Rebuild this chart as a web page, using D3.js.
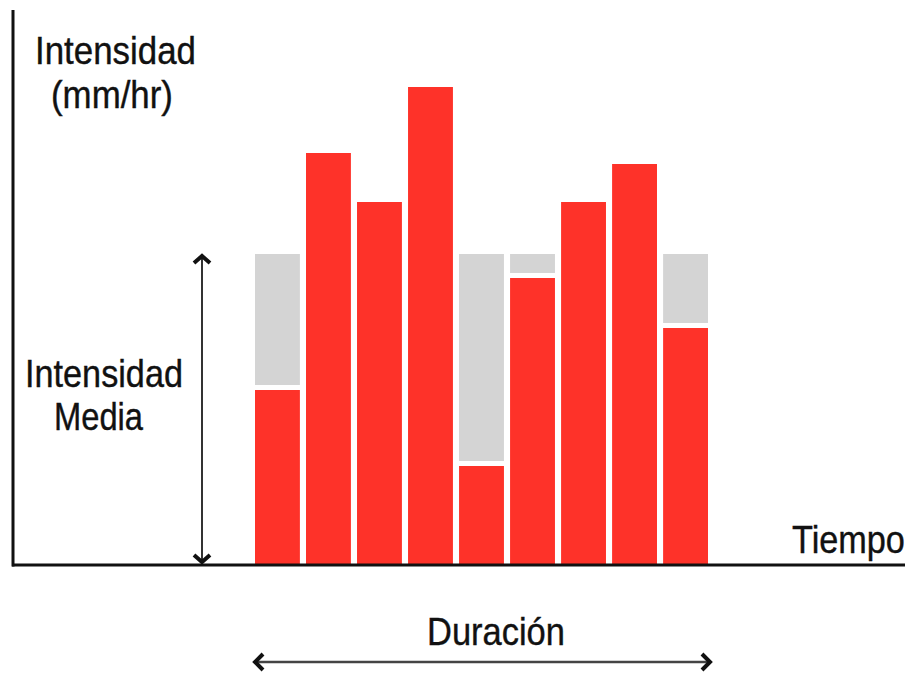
<!DOCTYPE html>
<html><head><meta charset="utf-8">
<script src="https://cdn.jsdelivr.net/npm/d3@7"></script>
<style>html,body{margin:0;padding:0;background:#fff;}svg{display:block;}</style>
</head><body>
<svg id="c" width="912" height="673"></svg>
<script>
// Data (intensity per time interval, arbitrary mm/hr units)
const intervals = ["1","2","3","4","5","6","7","8","9"];
const intensity = [17.5, 41.2, 36.3, 47.8, 9.9, 28.7, 36.3, 40.1, 23.7];
const meanIntensity = 31.1;
const labels = {
  yTitle: ["Intensidad", "(mm/hr)"],
  mean: ["Intensidad", "Media"],
  xTitle: "Tiempo",
  duration: "Duración"
};

const svg = d3.select("#c");
const baseY = 565;
const x = d3.scaleBand().domain(intervals).range([255, 708]).paddingInner(0.12).paddingOuter(0);
const y = d3.scaleLinear().domain([0, 50]).range([baseY, 65]);
const RED = "#FE3229", GREY = "#D4D4D4";
const font = "'Liberation Sans', Arial, Helvetica, sans-serif";

// grey "deficit" bars up to the mean
svg.append("g").selectAll("rect").data(intensity.map((v,i)=>({v, k:intervals[i]})).filter(d=>d.v<meanIntensity))
  .join("rect")
  .attr("x", d=>x(d.k)).attr("width", x.bandwidth())
  .attr("y", y(meanIntensity))
  .attr("height", d=>Math.max(0, y(d.v) - 5 - y(meanIntensity)))
  .attr("fill", GREY);

// red intensity bars
svg.append("g").selectAll("rect").data(intensity.map((v,i)=>({v, k:intervals[i]})))
  .join("rect")
  .attr("x", d=>x(d.k)).attr("width", x.bandwidth())
  .attr("y", d=>y(d.v)).attr("height", d=>y(0)-y(d.v))
  .attr("fill", RED);

// axes
svg.append("line").attr("x1",13).attr("x2",13).attr("y1",10).attr("y2",y(0)+1.5)
  .attr("stroke","#111").attr("stroke-width",3);
svg.append("line").attr("x1",12).attr("x2",905).attr("y1",y(0)).attr("y2",y(0))
  .attr("stroke","#111").attr("stroke-width",3);

// mean arrow (vertical double arrow)
const ax = 202;
const topY = y(meanIntensity), botY = y(0) - 1;
svg.append("line").attr("x1",ax).attr("x2",ax).attr("y1",topY+2).attr("y2",botY-2)
  .attr("stroke","#333").attr("stroke-width",2);
const chev = (pts)=>svg.append("path").attr("d", d3.line()(pts)).attr("fill","none")
  .attr("stroke","#111").attr("stroke-width",4).attr("stroke-linejoin","miter").attr("stroke-linecap","butt");
chev([[ax-8, topY+9],[ax, topY+2],[ax+8, topY+9]]);
chev([[ax-8, botY-9],[ax, botY-2],[ax+8, botY-9]]);

// duration arrow
const dy = 662, dx0 = x(intervals[0]) - 2, dx1 = x(intervals[intervals.length-1]) + x.bandwidth() + 4;
svg.append("line").attr("x1",dx0+2).attr("x2",dx1-2).attr("y1",dy).attr("y2",dy)
  .attr("stroke","#444").attr("stroke-width",2.4);
chev([[dx0+10, dy-8],[dx0+2, dy],[dx0+10, dy+8]]);
chev([[dx1-10, dy-8],[dx1-2, dy],[dx1-10, dy+8]]);

// texts (horizontally condensed to match the narrow typeface)
function txt(s, xx, yy, len){
  const t = svg.append("text").attr("x",0).attr("y",0).text(s)
    .attr("font-family",font).attr("font-size",39).attr("fill","#111")
    .attr("stroke","#111").attr("stroke-width",0.4);
  const w = t.node().getComputedTextLength();
  t.attr("transform", `translate(${xx},${yy}) scale(${len/w},1)`);
}
txt(labels.yTitle[0], 35, 64, 161);
txt(labels.yTitle[1], 51, 108, 122);
txt(labels.mean[0], 25, 387, 158);
txt(labels.mean[1], 54, 430, 89);
txt(labels.xTitle, 792, 553, 113);
txt(labels.duration, 427, 645, 138);
</script>
</body></html>
